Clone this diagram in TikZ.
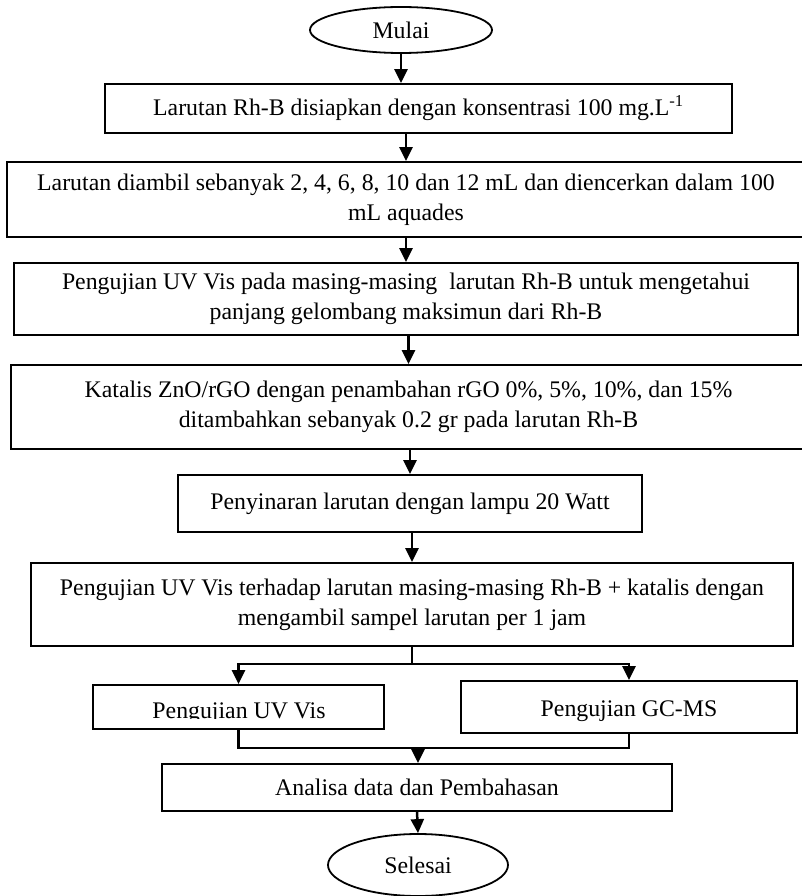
\documentclass[tikz,border=0pt]{standalone}
\usepackage{fontspec}
\setmainfont{Liberation Serif}
\usetikzlibrary{arrows.meta,shapes.geometric,calc}
\begin{document}
\begin{tikzpicture}[x=1pt,y=-1pt,
  txt/.style={font=\fontsize{23.8}{30}\selectfont},
  box/.style={draw, line width=1.8pt, rectangle, inner sep=0pt, align=center, txt},
  oval/.style={draw, line width=1.8pt, ellipse, inner sep=0pt, txt},
  line/.style={line width=2.5pt},
  conn/.style={line width=2.5pt, -{Triangle[length=14pt,width=13pt]}}]
\useasboundingbox (0,0) rectangle (801,896);

\node[oval, minimum width=182, minimum height=46] (mulai) at (401,30) {Mulai};
\node[box, minimum width=627, minimum height=49] (b1) at (418.5,108.5)
  {Larutan Rh-B disiapkan dengan konsentrasi 100 mg.L\textsuperscript{-1}};
\node[box, minimum width=798, minimum height=75] (b2) at (406,199.5)
  {Larutan diambil sebanyak 2, 4, 6, 8, 10 dan 12 mL dan diencerkan dalam 100\\mL aquades};
\node[box, minimum width=784, minimum height=72] (b3) at (406,299)
  {Pengujian UV Vis pada masing-masing\ \ larutan Rh-B untuk mengetahui\\panjang gelombang maksimun dari Rh-B};
\node[box, minimum width=795, minimum height=84] (b4) at (408.5,407)
  {Katalis ZnO/rGO dengan penambahan rGO 0\%, 5\%, 10\%, dan 15\%\\ditambahkan sebanyak 0.2 gr pada larutan Rh-B};
\node[box, minimum width=464, minimum height=57] (b5) at (410,503.5)
  {Penyinaran larutan dengan lampu 20 Watt};
\node[box, minimum width=762, minimum height=83] (b6) at (412,604.5)
  {Pengujian UV Vis terhadap larutan masing-masing Rh-B + katalis dengan\\mengambil sampel larutan per 1 jam};
\node[box, minimum width=291, minimum height=44] (b7) at (238.5,707) {};
\begin{scope}
  \clip (93,685) rectangle (385,718.5);
  \node[txt, anchor=base, inner sep=0pt] (b7t) at (239,718) {Pengujian UV Vis};
\end{scope}
\node[box, minimum width=336, minimum height=52] (b8) at (629,707) {};
\node[txt, anchor=base, inner sep=0pt] (b8t) at (629,716) {Pengujian GC-MS};
\node[box, minimum width=510, minimum height=47] (b9) at (417,787.5)
  {Analisa data dan Pembahasan};
\node[oval, minimum width=180, minimum height=62] (selesai) at (418,865) {Selesai};

\draw[conn] (mulai.south) -- (mulai.south |- b1.north);
\draw[conn] (b2.north |- b1.south) -- (b2.north);
\draw[conn] (b2.south) -- (b3.north);
\draw[conn] (b4.north |- b3.south) -- (b4.north);
\draw[conn] (b5.north |- b4.south) -- (b5.north);
\draw[conn] (b6.north |- b5.south) -- (b6.north);

\coordinate (br) at (412,664);
\draw[line] (b6.south) -- (br);
\draw[conn] (br) -| (b7.north);
\draw[conn] (br) -| (b8.north);

\coordinate (mg) at (418,748);
\draw[line] (b7.south) |- (mg);
\draw[line] (b8.south) |- (mg);
\draw[conn] (mg) -- (mg |- b9.north);
\draw[conn] (b9.south) -- (selesai.north);
\end{tikzpicture}
\end{document}
